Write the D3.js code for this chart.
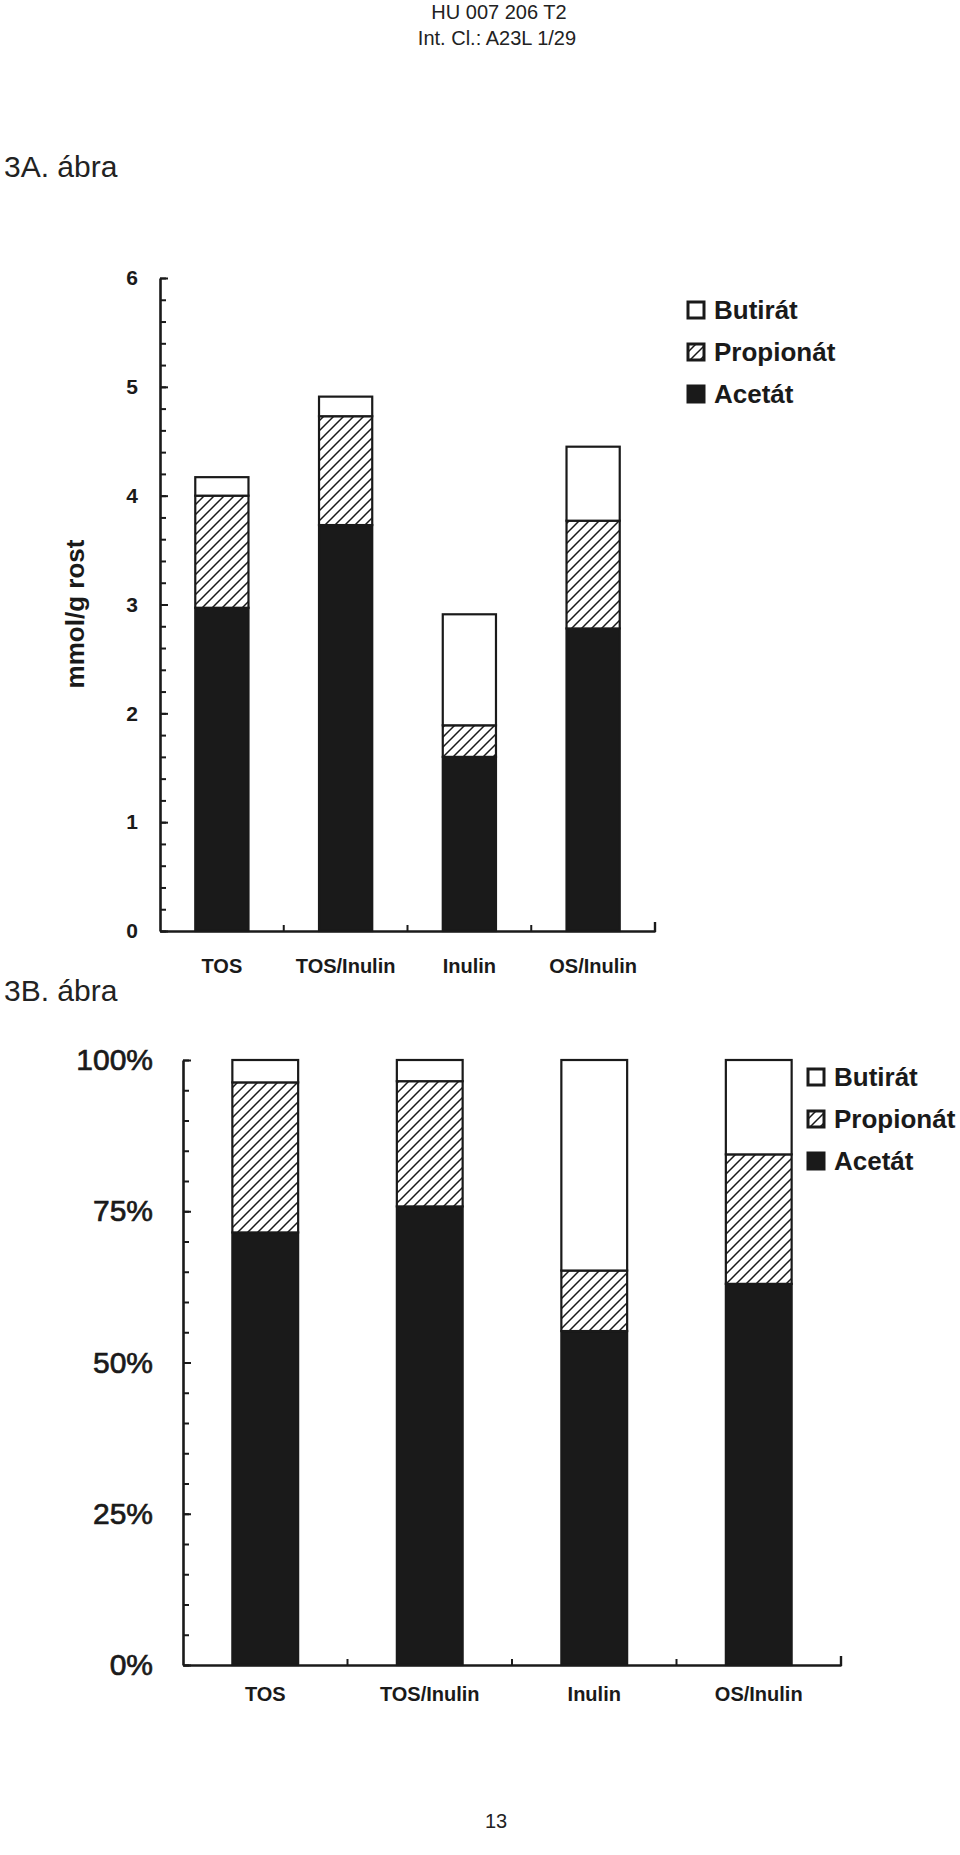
<!DOCTYPE html>
<html>
<head>
<meta charset="utf-8">
<script src="https://cdn.jsdelivr.net/npm/d3@7"></script>
<style>
  body { margin: 0; background: #fff; }
  svg { display: block; font-family: "Liberation Sans", Arial, sans-serif; }
</style>
</head>
<body>
<div id="container"></div>
<script>
// data
var categories = ["TOS", "TOS/Inulin", "Inulin", "OS/Inulin"];
var seriesNames = ["Acetát", "Propionát", "Butirát"];
var legendOrder = ["Butirát", "Propionát", "Acetát"];

// 3A: mmol/g rost
var acetatA = [2.97, 3.73, 1.60, 2.78];
var propionatA = [1.03, 1.00, 0.29, 0.99];
var butiratA = [0.17, 0.18, 1.02, 0.68];
var ticksA = [0, 1, 2, 3, 4, 5, 6];

// 3B: percent
var acetatB = [71.5, 75.8, 55.2, 63.0];
var propionatB = [24.8, 20.7, 10.0, 21.4];
var butiratB = [3.7, 3.5, 34.8, 15.6];
var ticksB = [0, 25, 50, 75, 100];

var W = 960, H = 1855;
var svg = d3.select("#container").append("svg")
  .attr("width", W).attr("height", H);

svg.append("rect").attr("width", W).attr("height", H).attr("fill", "#fff");

var defs = svg.append("defs");
var pat = defs.append("pattern")
  .attr("id", "hatch")
  .attr("patternUnits", "userSpaceOnUse")
  .attr("width", 10).attr("height", 10);
pat.append("rect").attr("width", 10).attr("height", 10).attr("fill", "#fff");
pat.append("path")
  .attr("d", "M0,10 L10,0 M-2,2 L2,-2 M8,12 L12,8")
  .attr("stroke", "#1a1a1a").attr("stroke-width", 1.5);

var fills = { "Acetát": "#1a1a1a", "Propionát": "url(#hatch)", "Butirát": "#fff" };

// page texts
svg.append("text").attr("x", 499).attr("y", 19).attr("text-anchor", "middle")
  .style("font-size", "20px").attr("fill", "#222").text("HU 007 206 T2");
svg.append("text").attr("x", 497).attr("y", 45).attr("text-anchor", "middle")
  .style("font-size", "20px").attr("fill", "#222").text("Int. Cl.: A23L 1/29");
svg.append("text").attr("x", 4).attr("y", 177)
  .style("font-size", "30px").attr("fill", "#222").text("3A. ábra");
svg.append("text").attr("x", 4).attr("y", 1001)
  .style("font-size", "30px").attr("fill", "#222").text("3B. ábra");
svg.append("text").attr("x", 496).attr("y", 1828).attr("text-anchor", "middle")
  .style("font-size", "20px").attr("fill", "#222").text("13");

function rows(a, p, b) {
  return categories.map(function (c, i) {
    return { cat: c, "Acetát": a[i], "Propionát": p[i], "Butirát": b[i] };
  });
}

function drawChart(opt) {
  var g = svg.append("g");
  var x = d3.scaleBand().domain(categories).range([opt.x0, opt.x1])
    .paddingInner(opt.pad).paddingOuter(opt.pad / 2);
  var y = d3.scaleLinear().domain(opt.domain).range([opt.y0, opt.y1]);

  var stacked = d3.stack().keys(seriesNames)(opt.data);

  g.selectAll("g.layer")
    .data(stacked)
    .enter().append("g")
    .attr("class", "layer")
    .selectAll("rect")
    .data(function (d) { return d.map(function (v) { v.key = d.key; return v; }); })
    .enter().append("rect")
    .attr("x", function (d) { return x(d.data.cat); })
    .attr("y", function (d) { return y(d[1]); })
    .attr("width", x.bandwidth())
    .attr("height", function (d) { return y(d[0]) - y(d[1]); })
    .attr("fill", function (d) { return fills[d.key]; })
    .attr("stroke", "#1a1a1a")
    .attr("stroke-width", 2.2);

  // minor ticks
  g.append("g")
    .attr("transform", "translate(" + opt.x0 + ",0)")
    .call(d3.axisLeft(y).tickValues(opt.minor).tickSizeInner(-6).tickSizeOuter(0).tickFormat(""))
    .call(function (a) { a.select(".domain").remove(); })
    .selectAll("line").attr("stroke", "#1a1a1a").attr("stroke-width", 2);

  // major ticks + labels
  var ya = g.append("g")
    .attr("transform", "translate(" + opt.x0 + ",0)")
    .call(d3.axisLeft(y).tickValues(opt.ticks).tickSizeInner(-8).tickSizeOuter(0)
      .tickPadding(opt.labelPad).tickFormat(opt.fmt));
  ya.select(".domain").attr("stroke", "#1a1a1a").attr("stroke-width", 2.6);
  ya.selectAll("line").attr("stroke", "#1a1a1a").attr("stroke-width", 2);
  ya.selectAll("text")
    .style("font-size", opt.yFont).style("font-weight", opt.yWeight)
    .attr("fill", "#1a1a1a").attr("stroke", opt.yStroke ? "#1a1a1a" : null)
    .attr("stroke-width", opt.yStroke || null);

  // x axis
  var xa = g.append("g")
    .attr("transform", "translate(0," + opt.y0 + ")")
    .call(d3.axisBottom(x).tickSize(0).tickPadding(opt.xPad));
  xa.select(".domain").attr("stroke", "#1a1a1a").attr("stroke-width", 2.6);
  xa.selectAll("text")
    .style("font-size", opt.xFont).style("font-weight", "bold").attr("fill", "#1a1a1a");

  // small upward ticks between the groups and at the end
  var bounds = categories.slice(1).map(function (c) { return x(c) - x.step() * x.paddingInner() / 2; });
  g.selectAll("line.sep").data(bounds).enter().append("line")
    .attr("x1", function (d) { return d; }).attr("x2", function (d) { return d; })
    .attr("y1", opt.y0).attr("y2", opt.y0 - 6)
    .attr("stroke", "#1a1a1a").attr("stroke-width", 2);
  g.append("line").attr("x1", opt.x1).attr("x2", opt.x1)
    .attr("y1", opt.y0 + 1).attr("y2", opt.y0 - 9)
    .attr("stroke", "#1a1a1a").attr("stroke-width", 2.4);

  // legend
  var lg = g.selectAll("g.leg").data(legendOrder).enter().append("g")
    .attr("transform", function (d, i) { return "translate(" + opt.legX + "," + (opt.legY + i * opt.legStep) + ")"; });
  lg.append("rect")
    .attr("x", 0).attr("y", -8).attr("width", 16).attr("height", 16)
    .attr("fill", function (d) { return d === "Propionát" ? "url(#hatch)" : fills[d]; })
    .attr("stroke", "#1a1a1a").attr("stroke-width", 3);
  lg.append("text").attr("x", 26).attr("y", 9)
    .style("font-size", "26px").style("font-weight", "bold").attr("fill", "#1a1a1a")
    .text(function (d) { return d; });

  return g;
}

var gA = drawChart({
  data: rows(acetatA, propionatA, butiratA),
  x0: 160, x1: 655, y0: 931, y1: 278, domain: [0, 6], pad: 0.57,
  ticks: ticksA, minor: d3.range(0, 31).map(function (i) { return i / 5; }),
  fmt: d3.format("d"), labelPad: 22, yFont: "21px", yWeight: "bold",
  xFont: "20px", xPad: 28,
  legX: 688, legY: 310, legStep: 42
});

gA.append("text")
  .attr("transform", "translate(84,614) rotate(-90)")
  .attr("text-anchor", "middle")
  .style("font-size", "26px").style("font-weight", "bold").attr("fill", "#1a1a1a")
  .text("mmol/g rost");

drawChart({
  data: rows(acetatB, propionatB, butiratB),
  x0: 183, x1: 841, y0: 1665, y1: 1060, domain: [0, 100], pad: 0.6,
  ticks: ticksB, minor: d3.range(0, 101, 5),
  fmt: function (d) { return d + "%"; }, labelPad: 30, yFont: "30px", yWeight: "normal", yStroke: 0.7,
  xFont: "20px", xPad: 22,
  legX: 808, legY: 1077, legStep: 42
});
</script>
</body>
</html>
